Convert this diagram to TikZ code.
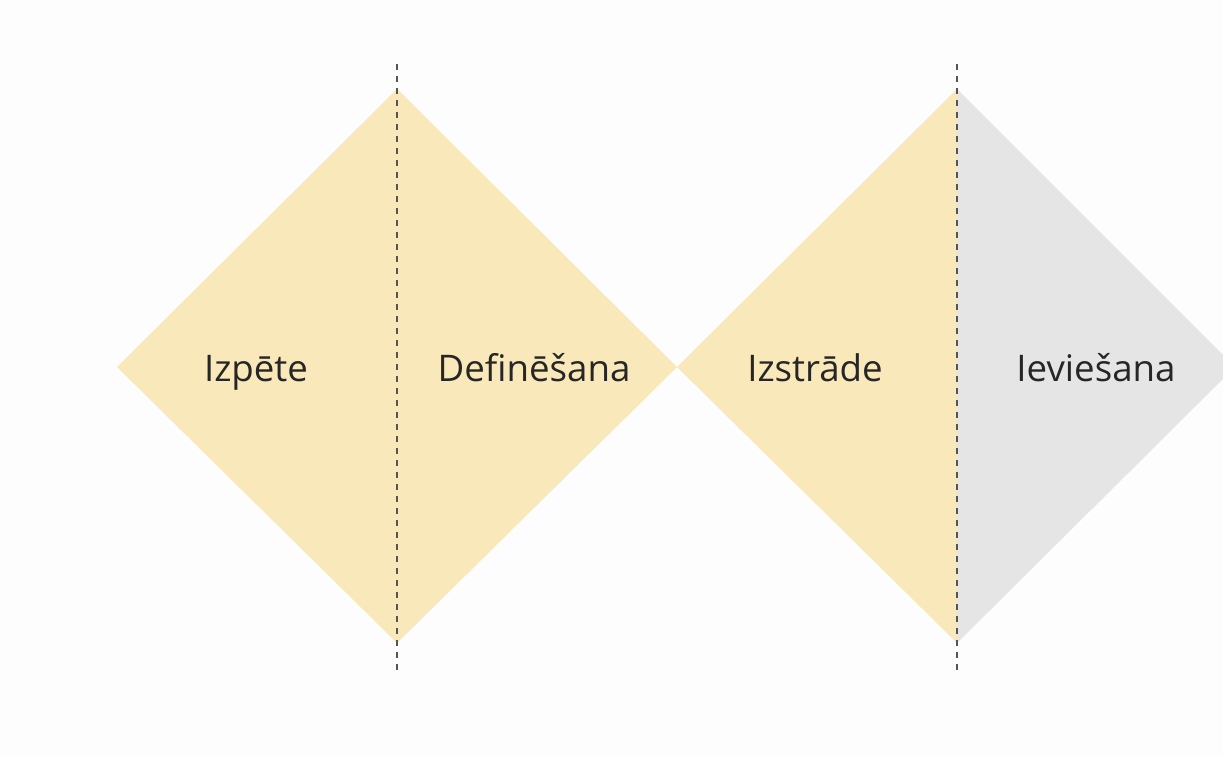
\documentclass[tikz,border=0pt]{standalone}
\usepackage{fontspec}
\setmainfont{Open Sans}
\usepackage{xcolor}
\definecolor{bgwhite}{HTML}{FEFDFE}
\definecolor{sand}{HTML}{F9E8BA}
\definecolor{lightgrey}{HTML}{E5E5E5}
\definecolor{dashgrey}{HTML}{555555}

\begin{document}
\begin{tikzpicture}[x=0.75pt, y=-0.75pt]
        \tikzset{phase/.style = {font=\fontsize{27.5}{33}\selectfont, text=black!85, anchor=base}}
        \tikzset{divider/.style = {draw=dashgrey, line width=1.1pt, dash pattern=on 4.5pt off 4.5pt}}
        \fill[bgwhite] (0,0) rectangle (1223,757);
        \useasboundingbox (0,0) rectangle (1223,757);
        % diamonds
        \fill[sand] (117,367) -- (397,89) -- (677,367) -- (397,643) -- cycle;
        \fill[sand] (677,367) -- (957,89) -- (957,643) -- cycle;
        \fill[lightgrey] (957,89) -- (1235,367) -- (957,643) -- cycle;
        % dividers
        \coordinate (d1top) at (397,64);
        \coordinate (d1bot) at (397,672);
        \coordinate (d2top) at (957,64);
        \coordinate (d2bot) at (957,672);
        \draw[divider] (d1top) -- (d1bot);
        \draw[divider] (d2top) -- (d2bot);
        % labels
        \node[phase] (izpete) at (256,381) {Izpēte};
        \node[phase] (definesana) at (534,381) {Definēšana};
        \node[phase] (izstrade) at (815,381) {Izstrāde};
        \node[phase] (ieviesana) at (1096,381) {Ieviešana};
    \end{tikzpicture}
\end{document}
